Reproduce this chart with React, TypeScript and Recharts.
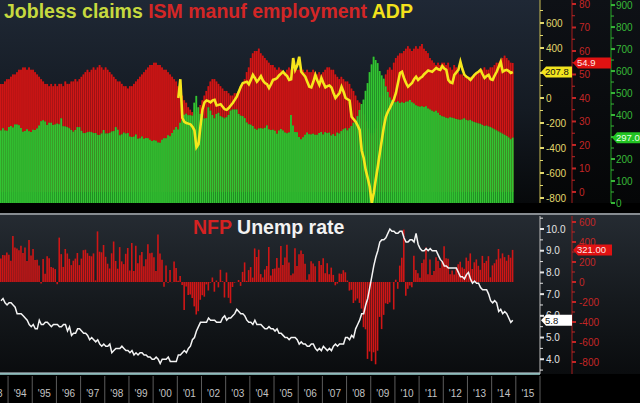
import React from 'react'
import { ComposedChart, Bar, Line, XAxis, YAxis } from 'recharts'

// monthly series, Sep 1993 .. Nov 2014
const FIRST_YEAR = 1993
const FIRST_MONTH = 9
const TRAILING_EMPTY = 13 // Dec 2014 .. Dec 2015 are empty on the time axis

// initial jobless claims, thousands
const CLAIMS = [
  330, 340, 330, 328,
  346, 350, 343, 357, 357, 354, 341, 324, 327, 335, 326, 323, // 1994
  333, 332, 339, 352, 372, 376, 370, 355, 365, 365, 355, 357, // 1995
  361, 358, 385, 349, 348, 345, 340, 332, 324, 332, 345, 345, // 1996
  328, 318, 318, 322, 324, 322, 318, 318, 310, 309, 316, 332, // 1997
  316, 316, 319, 325, 327, 345, 333, 308, 312, 320, 316, 318, // 1998
  302, 300, 302, 311, 292, 294, 302, 292, 295, 294, 288, 282, // 1999
  285, 283, 275, 274, 288, 294, 294, 308, 304, 318, 333, 345, // 2000
  334, 365, 377, 401, 406, 399, 399, 397, 456, 487, 435, 405, // 2001
  405, 384, 386, 435, 420, 400, 385, 405, 410, 395, 390, 385, // 2002
  390, 400, 420, 425, 425, 425, 405, 397, 395, 386, 366, 358, // 2003
  356, 350, 338, 333, 339, 340, 338, 342, 353, 335, 332, 333, // 2004
  328, 315, 330, 336, 330, 320, 317, 320, 400, 352, 323, 322, // 2005
  300, 290, 299, 310, 320, 313, 312, 315, 310, 310, 318, 323, // 2006
  312, 322, 318, 320, 307, 313, 305, 320, 316, 327, 335, 340, // 2007
  330, 340, 350, 365, 377, 395, 423, 450, 470, 510, 545, 595, // 2008
  630, 665, 650, 636, 600, 580, 565, 530, 505, 480, 468, 460, // 2009
  458, 462, 455, 458, 455, 460, 462, 468, 458, 452, 445, 440, // 2010
  438, 440, 436, 440, 430, 425, 420, 415, 420, 410, 400, 395, // 2011
  392, 388, 385, 390, 388, 385, 382, 380, 378, 380, 385, 378, // 2012
  375, 378, 372, 368, 365, 362, 360, 355, 350, 352, 348, 345, // 2013
  340, 335, 330, 325, 320, 315, 310, 305, 298, 290, 297, // 2014
]

// ISM manufacturing employment index
const ISM_EMP = [
  46, 46, 47, 48,
  48, 49, 50, 50, 51, 52, 52, 53, 53, 52, 53, 52, // 1994
  52, 51, 50, 49, 48, 47, 46, 46, 45, 46, 45, 46, // 1995
  45, 46, 46, 45, 47, 46, 46, 47, 47, 48, 47, 48, // 1996
  49, 50, 51, 52, 51, 52, 53, 52, 53, 54, 53, 52, // 1997
  53, 52, 51, 50, 49, 48, 47, 47, 46, 45, 45, 44, // 1998
  45, 45, 46, 47, 48, 49, 50, 51, 52, 53, 54, 54, // 1999
  55, 55, 54, 54, 53, 52, 52, 51, 50, 49, 48, 47, // 2000
  45, 43, 41, 39, 38, 36, 35, 34, 33, 33, 34, 37, // 2001
  39, 41, 43, 45, 47, 48, 48, 47, 46, 45, 44, 43, // 2002
  43, 42, 41, 41, 42, 42, 43, 45, 46, 48, 51, 53, // 2003
  57, 59, 60, 60, 61, 59, 58, 57, 56, 55, 54, 54, // 2004
  53, 52, 53, 52, 51, 51, 52, 53, 52, 52, 53, 52, // 2005
  52, 53, 52, 51, 52, 51, 51, 52, 51, 50, 51, 50, // 2006
  51, 52, 53, 53, 52, 52, 50, 49, 48, 49, 48, 47, // 2007
  47, 46, 44, 43, 41, 39, 38, 35, 33, 30, 27, 25, // 2008
  24, 25, 27, 30, 34, 41, 47, 50, 52, 53, 52, 55, // 2009
  57, 58, 59, 59, 60, 61, 62, 61, 60, 61, 62, 61, // 2010
  62, 63, 61, 60, 59, 57, 56, 55, 54, 55, 54, 55, // 2011
  55, 54, 55, 53, 52, 54, 53, 51, 50, 50, 49, 49, // 2012
  48, 49, 49, 50, 50, 51, 51, 52, 53, 52, 52, 53, // 2013
  53, 54, 55, 55, 56, 57, 58, 57, 56, 55, 54.9, // 2014
]

// nonfarm payrolls, monthly change, thousands
const NFP = [
  236, 271, 268, 294,
  272, 213, 461, 345, 334, 318, 363, 290, 346, 211, 421, 265, // 1994
  331, 219, 223, 164, -16, 229, 83, 257, 237, 150, 143, 129, // 1995
  -22, 444, 279, 151, 330, 285, 232, 169, 213, 234, 290, 169, // 1996
  234, 318, 323, 288, 262, 257, 286, 16, 506, 303, 297, 370, // 1997
  252, 183, 135, 287, 405, 210, 133, 349, 206, 179, 282, 340, // 1998
  115, 390, 110, 363, 188, 267, 301, 157, 227, 378, 287, 292, // 1999
  247, 109, 475, 286, 223, -47, 166, -8, 119, -2, 204, 140, // 2000
  13, 61, -30, -281, -44, -129, -125, -160, -244, -325, -292, -178, // 2001
  -132, -147, -24, -85, -7, 45, -97, 15, -54, 122, 8, -155, // 2002
  95, -158, -212, -50, -6, -1, 20, -39, 101, 196, 12, 119, // 2003
  149, 44, 336, 250, 323, 79, 45, 125, 160, 350, 65, 129, // 2004
  135, 240, 142, 360, 170, 246, 372, 196, 67, 84, 337, 159, // 2005
  277, 315, 280, 182, 23, 77, 207, 184, 157, 2, 210, 171, // 2006
  238, 88, 188, 78, 144, 71, -33, -16, 85, 82, 118, 97, // 2007
  15, -86, -78, -210, -185, -165, -209, -266, -452, -473, -769, -695, // 2008
  -791, -703, -823, -687, -349, -471, -329, -213, -220, -204, -2, -275, // 2009
  23, -68, 164, 243, 524, -137, -68, -36, -52, 262, 119, 87, // 2010
  43, 189, 225, 346, 77, 225, 69, 110, 248, 209, 141, 209, // 2011
  358, 237, 233, 78, 115, 76, 143, 177, 203, 146, 132, 244, // 2012
  211, 286, 130, 197, 226, 162, 122, 261, 190, 212, 258, 47, // 2013
  166, 188, 225, 330, 236, 286, 249, 213, 271, 243, 321, // 2014
]

// unemployment rate, %
const UNEMP = [
  6.7, 6.8, 6.6, 6.5,
  6.6, 6.6, 6.5, 6.4, 6.1, 6.1, 6.1, 6.0, 5.9, 5.8, 5.6, 5.5, // 1994
  5.6, 5.4, 5.4, 5.8, 5.6, 5.6, 5.7, 5.7, 5.6, 5.5, 5.6, 5.6, // 1995
  5.6, 5.5, 5.5, 5.6, 5.6, 5.3, 5.5, 5.1, 5.2, 5.2, 5.4, 5.4, // 1996
  5.3, 5.2, 5.2, 5.1, 4.9, 5.0, 4.9, 4.8, 4.9, 4.7, 4.6, 4.7, // 1997
  4.6, 4.6, 4.7, 4.3, 4.4, 4.5, 4.5, 4.5, 4.6, 4.5, 4.4, 4.4, // 1998
  4.3, 4.4, 4.2, 4.3, 4.2, 4.3, 4.3, 4.2, 4.2, 4.1, 4.1, 4.0, // 1999
  4.0, 4.1, 4.0, 3.8, 4.0, 4.0, 4.0, 4.1, 3.9, 3.9, 3.9, 3.9, // 2000
  4.2, 4.2, 4.3, 4.4, 4.3, 4.5, 4.6, 4.9, 5.0, 5.3, 5.5, 5.7, // 2001
  5.7, 5.7, 5.7, 5.9, 5.8, 5.8, 5.8, 5.7, 5.7, 5.7, 5.9, 6.0, // 2002
  5.8, 5.9, 5.9, 6.0, 6.1, 6.3, 6.2, 6.1, 6.1, 6.0, 5.8, 5.7, // 2003
  5.7, 5.6, 5.8, 5.6, 5.6, 5.6, 5.5, 5.4, 5.4, 5.5, 5.4, 5.4, // 2004
  5.3, 5.4, 5.2, 5.2, 5.1, 5.0, 5.0, 4.9, 5.0, 5.0, 5.0, 4.9, // 2005
  4.7, 4.8, 4.7, 4.7, 4.6, 4.6, 4.7, 4.7, 4.5, 4.4, 4.5, 4.4, // 2006
  4.6, 4.5, 4.4, 4.5, 4.4, 4.6, 4.7, 4.6, 4.7, 4.7, 4.7, 5.0, // 2007
  5.0, 4.9, 5.1, 5.0, 5.4, 5.6, 5.8, 6.1, 6.1, 6.5, 6.8, 7.3, // 2008
  7.8, 8.3, 8.7, 9.0, 9.4, 9.5, 9.5, 9.6, 9.8, 10.0, 9.9, 9.9, // 2009
  9.8, 9.8, 9.9, 9.9, 9.6, 9.4, 9.4, 9.5, 9.5, 9.4, 9.8, 9.3, // 2010
  9.1, 9.0, 9.0, 9.1, 9.0, 9.1, 9.0, 9.0, 9.0, 8.8, 8.6, 8.5, // 2011
  8.3, 8.3, 8.2, 8.2, 8.2, 8.2, 8.2, 8.0, 7.8, 7.8, 7.7, 7.9, // 2012
  8.0, 7.7, 7.5, 7.6, 7.5, 7.5, 7.3, 7.2, 7.2, 7.2, 7.0, 6.7, // 2013
  6.6, 6.7, 6.6, 6.2, 6.3, 6.1, 6.2, 6.1, 5.9, 5.7, 5.8, // 2014
]

// ADP employment change, thousands, Jan 2001 .. Nov 2014
const ADP_FIRST = '2001-01'
const ADP = [
  0, 150, -160, -190, -200, -205, -210, -230, -260, -395, -370, -225, // 2001
  -90, -35, -20, -25, -35, -20, -15, -60, -55, -50, -70, -90, // 2002
  -95, -80, -60, -40, -15, 10, 50, 90, 120, 125, 130, 110, // 2003
  145, 185, 160, 130, 150, 175, 140, 120, 110, 80, 110, 145, // 2004
  150, 160, 180, 195, 210, 190, 175, 145, 150, 320, 225, 260, // 2005
  330, 210, 190, 170, 130, 90, 85, 130, 185, 140, 105, 160, // 2006
  120, 85, 95, 100, 85, 40, 0, 20, 40, 90, 50, 0, // 2007
  -10, -20, -150, -170, -190, -220, -255, -420, -480, -575, -640, -710, // 2008
  -840, -760, -650, -550, -440, -335, -230, -150, -110, -80, -45, -10, // 2009
  40, 120, 200, 210, 160, 120, 90, 105, 120, 150, 170, 145, // 2010
  160, 170, 190, 205, 220, 215, 210, 225, 240, 230, 225, 255, // 2011
  235, 225, 145, 125, 120, 185, 205, 225, 290, 230, 185, 170, // 2012
  160, 145, 165, 185, 200, 210, 225, 190, 160, 175, 185, 150, // 2013
  145, 180, 210, 250, 290, 210, 220, 225, 215, 200, 207.8, // 2014
]

const YEAR_TICKS = [
  '1994-01', '1995-01', '1996-01', '1997-01', '1998-01', '1999-01', '2000-01', '2001-01',
  '2002-01', '2003-01', '2004-01', '2005-01', '2006-01', '2007-01', '2008-01', '2009-01',
  '2010-01', '2011-01', '2012-01', '2013-01', '2014-01', '2015-01',
]
const YEAR_LABELS = [
  "'94", "'95", "'96", "'97", "'98", "'99", "'00", "'01", "'02", "'03", "'04",
  "'05", "'06", "'07", "'08", "'09", "'10", "'11", "'12", "'13", "'14", "'15",
]
const PREV_YEAR_LABEL = "'93"

const ADP_MAJOR = [-800, -600, -400, -200, 0, 200, 400, 600]
const ADP_MINOR = [-700, -500, -300, -100, 100, 300, 500, 700]
const ISM_MAJOR = [0, 10, 20, 30, 40, 50, 60, 70, 80]
const ISM_MINOR = [5, 15, 25, 35, 45, 55, 65, 75]
const CLAIMS_MAJOR = [0, 100, 200, 300, 400, 500, 600, 700, 800, 900]
const CLAIMS_MINOR = [50, 150, 250, 350, 450, 550, 650, 750, 850]
const UNEMP_MAJOR = [4, 5, 6, 7, 8, 9, 10]
const UNEMP_MINOR = [3.5, 4.5, 5.5, 6.5, 7.5, 8.5, 9.5, 10.5]
const NFP_MAJOR = [-800, -600, -400, -200, 0, 200, 400, 600]
const NFP_MINOR = [-700, -500, -300, -100, 100, 300, 500]

const FONT = '"Liberation Sans", Arial, sans-serif'
const W = 640
const PLOT_W = 540

const months: string[] = []
for (let i = 0; i < CLAIMS.length + TRAILING_EMPTY; i++) {
  const t = FIRST_MONTH - 1 + i
  months.push(`${FIRST_YEAR + Math.floor(t / 12)}-${String((t % 12) + 1).padStart(2, '0')}`)
}
const adpOffset = months.indexOf(ADP_FIRST)
const MONTH_W = PLOT_W / months.length

const data = months.map((month, i) => ({
  month,
  claims: CLAIMS[i] ?? null,
  ism: ISM_EMP[i] ?? null,
  nfp: NFP[i] ?? null,
  unemp: UNEMP[i] ?? null,
  adp: i >= adpOffset ? ADP[i - adpOffset] ?? null : null,
}))

type AxisCfg = {
  major: number[]
  minor: number[]
  last: number
  lastText: string
  fmt: (v: number) => string
  color: string
  boxFill: string
  boxText: string
  boxW: number
  dx: number
  hide: number[] // labels fully covered by the value box
}

const tickList = (c: AxisCfg) => [...c.major, ...c.minor, c.last]

function makeTick(c: AxisCfg) {
  const n = c.major.length + c.minor.length
  return (props: any) => {
    const { x, y, index, payload } = props
    if (index === n) {
      const h = 11
      const pts = `${x + 1},${y} ${x + 6},${y - h / 2} ${x + c.boxW},${y - h / 2} ${x + c.boxW},${y + h / 2} ${x + 6},${y + h / 2}`
      return (
        <g>
          <polygon points={pts} fill={c.boxFill} />
          <text x={x + 5} y={y} dy="0.36em" fill={c.boxText} fontSize={9.5} fontFamily={FONT}>
            {c.lastText}
          </text>
        </g>
      )
    }
    const isMajor = index < c.major.length
    return (
      <g>
        <line x1={x} x2={x + (isMajor ? 4 : 3)} y1={y} y2={y} stroke={c.color} strokeWidth={isMajor ? 2 : 1} />
        {isMajor && !c.hide.includes(payload.value) && (
          <text x={x + c.dx} y={y} dy="0.36em" fill={c.color} fontSize={10} fontFamily={FONT}>
            {c.fmt(payload.value)}
          </text>
        )}
      </g>
    )
  }
}

const adpAxis: AxisCfg = {
  major: ADP_MAJOR, minor: ADP_MINOR, last: ADP[ADP.length - 1], lastText: ADP[ADP.length - 1].toFixed(1),
  fmt: (v) => String(v), color: '#e2d86c', boxFill: '#f2e41e', boxText: '#111', boxW: 32, dx: 6, hide: [200],
}
const ismAxis: AxisCfg = {
  major: ISM_MAJOR, minor: ISM_MINOR, last: ISM_EMP[ISM_EMP.length - 1], lastText: ISM_EMP[ISM_EMP.length - 1].toFixed(1),
  fmt: (v) => String(v), color: '#c42626', boxFill: '#e01212', boxText: '#ffe6e6', boxW: 39, dx: 7, hide: [],
}
const claimsAxis: AxisCfg = {
  major: CLAIMS_MAJOR, minor: CLAIMS_MINOR, last: CLAIMS[CLAIMS.length - 1], lastText: CLAIMS[CLAIMS.length - 1].toFixed(1),
  fmt: (v) => String(v), color: '#38b838', boxFill: '#22c322', boxText: '#eaffea', boxW: 29, dx: 5, hide: [300],
}
const unempAxis: AxisCfg = {
  major: UNEMP_MAJOR, minor: UNEMP_MINOR, last: UNEMP[UNEMP.length - 1], lastText: UNEMP[UNEMP.length - 1].toFixed(1),
  fmt: (v) => v.toFixed(1), color: '#e4e4e4', boxFill: '#ffffff', boxText: '#111', boxW: 32, dx: 6, hide: [],
}
const nfpAxis: AxisCfg = {
  major: NFP_MAJOR, minor: NFP_MINOR, last: NFP[NFP.length - 1], lastText: NFP[NFP.length - 1].toFixed(2),
  fmt: (v) => String(v), color: '#c42626', boxFill: '#e01212', boxText: '#ffe6e6', boxW: 40, dx: 7, hide: [],
}

function YearTick(props: any) {
  const { x, y, payload } = props
  const k = YEAR_TICKS.indexOf(payload.value)
  const left = x - MONTH_W / 2
  const yearW = MONTH_W * 12
  const txt = { fill: '#c4c4c4', fontSize: 10, fontFamily: FONT, textAnchor: 'middle' as const }
  return (
    <g>
      <line x1={left} x2={left} y1={y + 2} y2={y + 29} stroke="#5c5c5c" />
      <text x={left + yearW / 2} y={y + 23} {...txt}>{YEAR_LABELS[k]}</text>
      {k === 0 && <text x={left - yearW / 2} y={y + 23} {...txt}>{PREV_YEAR_LABEL}</text>}
      {k === YEAR_TICKS.length - 1 && (
        <line x1={left + yearW} x2={left + yearW} y1={y + 2} y2={y + 29} stroke="#5c5c5c" />
      )}
    </g>
  )
}

const rightAxisProps = {
  orientation: 'right' as const,
  allowDataOverflow: true,
  interval: 0,
  tickLine: false,
  tickSize: 0,
  tickMargin: 0,
}

export default function App() {
  return (
    <div style={{ position: 'absolute', left: 0, top: 0, width: W, height: 403, background: '#000', overflow: 'hidden' }}>
      {/* panel backgrounds */}
      <div style={{ position: 'absolute', left: 0, top: 0, width: PLOT_W, height: 203, background: 'linear-gradient(#1f2835, #141a22 55%, #07090b)' }} />
      <div style={{ position: 'absolute', left: PLOT_W, top: 0, width: W - PLOT_W, height: 203, background: 'linear-gradient(#0e1116, #050607)' }} />
      <div style={{ position: 'absolute', left: 0, top: 213, width: W, height: 2, background: '#878c91' }} />
      <div style={{ position: 'absolute', left: 0, top: 215, width: W, height: 159, background: 'linear-gradient(#252b32, #15191d 55%, #0a0c0e)' }} />
      <div style={{ position: 'absolute', left: 0, top: 372, width: PLOT_W, height: 2, background: '#6c7277' }} />

      <ComposedChart width={W} height={211} data={data} margin={{ top: 0, right: 0, bottom: 8, left: 0 }}
        style={{ position: 'absolute', left: 0, top: 0 }}>
        <XAxis xAxisId="ismBase" dataKey="month" hide />
        <XAxis xAxisId="ism" dataKey="month" hide />
        <XAxis xAxisId="claimsBase" dataKey="month" hide />
        <XAxis xAxisId="claims" dataKey="month" hide />
        <YAxis yAxisId="a_adp" {...rightAxisProps} width={32} domain={[-840, 784]} ticks={tickList(adpAxis)}
          tick={makeTick(adpAxis)} axisLine={{ stroke: '#c9bd55' }} />
        <YAxis yAxisId="b_ism" {...rightAxisProps} width={39} domain={[-4.7, 81.7]} ticks={tickList(ismAxis)}
          tick={makeTick(ismAxis)} axisLine={{ stroke: '#a81c1c' }} />
        <YAxis yAxisId="c_claims" {...rightAxisProps} width={29} domain={[0, 923]} ticks={tickList(claimsAxis)}
          tick={makeTick(claimsAxis)} axisLine={{ stroke: '#26a626' }} />
        {/* full-width darker bar under each thin bar: the gaps read as darker stripes, and green hides red */}
        <Bar xAxisId="ismBase" yAxisId="b_ism" dataKey="ism" fill="#981010" barSize={MONTH_W} isAnimationActive={false} />
        <Bar xAxisId="ism" yAxisId="b_ism" dataKey="ism" fill="#d01616" barSize={1.6} isAnimationActive={false} />
        <Bar xAxisId="claimsBase" yAxisId="c_claims" dataKey="claims" fill="#1d801d" barSize={MONTH_W} isAnimationActive={false} />
        <Bar xAxisId="claims" yAxisId="c_claims" dataKey="claims" fill="#33c433" barSize={1.6} isAnimationActive={false} />
        <Line xAxisId="ism" yAxisId="a_adp" dataKey="adp" type="linear" stroke="#f6e61c" strokeWidth={2.6}
          dot={false} activeDot={false} isAnimationActive={false} />
      </ComposedChart>

      <ComposedChart width={W} height={187} data={data} margin={{ top: 0, right: 0, bottom: 0, left: 0 }}
        style={{ position: 'absolute', left: 0, top: 216 }}>
        <XAxis dataKey="month" ticks={YEAR_TICKS} interval={0} tick={YearTick} tickLine={false} tickSize={0}
          tickMargin={0} height={29} axisLine={{ stroke: '#9fd6d4', strokeWidth: 1.5 }} />
        <YAxis yAxisId="a_unemp" {...rightAxisProps} width={32} domain={[3.32, 10.6]} ticks={tickList(unempAxis)}
          tick={makeTick(unempAxis)} axisLine={{ stroke: '#bdbdbd' }} />
        <YAxis yAxisId="b_nfp" {...rightAxisProps} width={68} domain={[-920, 660]} ticks={tickList(nfpAxis)}
          tick={makeTick(nfpAxis)} axisLine={{ stroke: '#a81c1c' }} />
        <Bar yAxisId="b_nfp" dataKey="nfp" fill="#d01616" barSize={1.6} isAnimationActive={false} />
        <Line yAxisId="a_unemp" dataKey="unemp" type="linear" stroke="#f4f4f4" strokeWidth={1.5}
          dot={false} activeDot={false} isAnimationActive={false} />
      </ComposedChart>

      <svg width={W} height={403} style={{ position: 'absolute', left: 0, top: 0, pointerEvents: 'none' }}>
        <text x={4} y={18} fontSize={19.5} fontWeight="bold" fontFamily={FONT}>
          <tspan fill="#c6d93f">Jobless claims</tspan>
          <tspan fill="#d32626"> ISM manuf employment</tspan>
          <tspan fill="#f3e11b"> ADP</tspan>
        </text>
        <text x={193} y={234} fontSize={19.5} fontWeight="bold" fontFamily={FONT}>
          <tspan fill="#d42222">NFP</tspan>
          <tspan fill="#f2f2f2"> Unemp rate</tspan>
        </text>
      </svg>
    </div>
  )
}
